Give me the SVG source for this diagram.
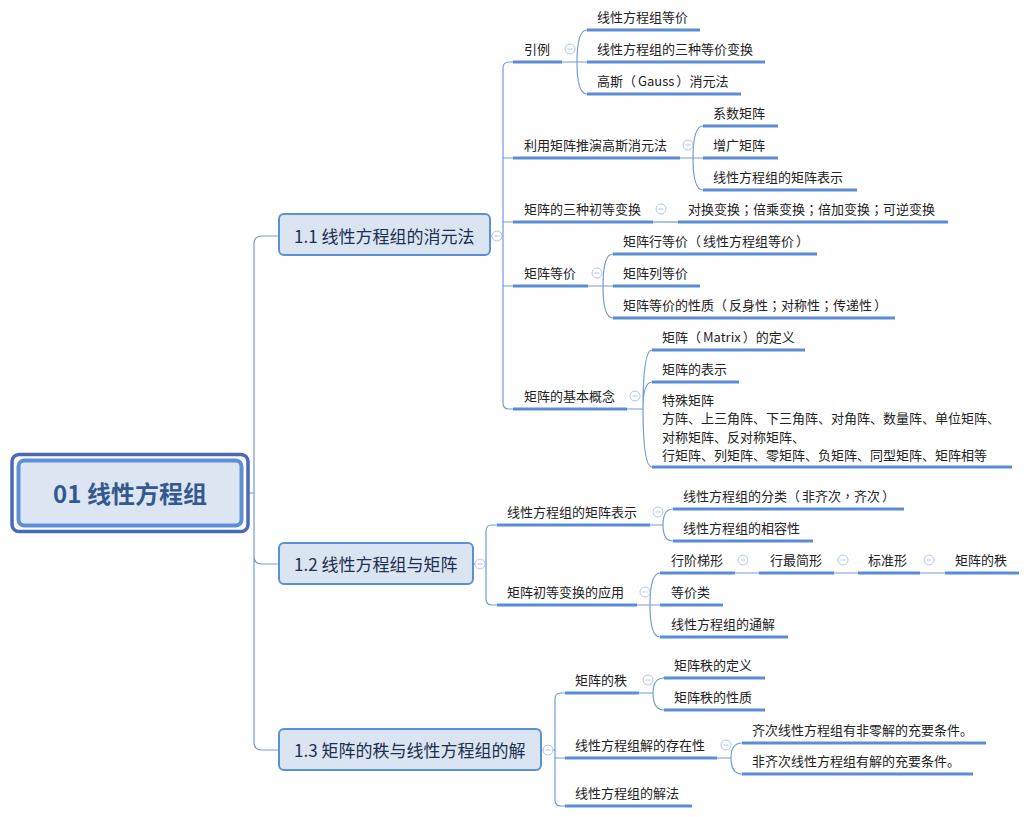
<svg xmlns="http://www.w3.org/2000/svg" xmlns:xlink="http://www.w3.org/1999/xlink" width="1031" height="817" viewBox="0 0 1031 817">
<style>
.ul{stroke:#5b8dd6;stroke-width:3;fill:none}
.cn{stroke:#6f9bd9;stroke-width:1.2;fill:none}
.t{font-family:"Noto Sans CJK SC","Noto Sans",sans-serif;font-size:13px;fill:#222}
.p{font-family:"Noto Sans CJK TC","Noto Sans CJK SC",sans-serif}
.mt{font-family:"Noto Sans CJK SC","Noto Sans",sans-serif;font-size:17px;fill:#1b2f52}
.box{fill:#dbe5f1;stroke:#5b8fd6;stroke-width:2}
.col circle{fill:#fff;stroke:#b3c4e8;stroke-width:1}
.col line{stroke:#b3c4e8;stroke-width:1}
</style>
<defs>
<g id="col" class="col"><circle cx="0" cy="0" r="5"/><line x1="-2.5" y1="0" x2="2.5" y2="0"/></g>
</defs>
<rect width="1031" height="817" fill="#fff"/>

<g id="connectors">
<path class="cn" d="M248 493 H254 M254 493 V244 Q254 236 262 236 H279 M254 493 V742 Q254 750 262 750 H279 M254 493 V556 Q254 564 262 564 H279"/>
<path class="cn" d="M490 236 H503 M513 62 H509 Q503 62 503 68 V403 Q503 409 509 409 H513 M503 158 H513 M503 222 H513 M503 286 H513"/>
<path class="cn" d="M473 564 H486 M497 525 H492 Q486 525 486 531 V599 Q486 605 492 605 H497"/>
<path class="cn" d="M541 750 H555 M565 693 H561 Q555 693 555 699 V800 Q555 806 561 806 H565 M555 758 H565"/>
<path class="cn" d="M562 62 H587 M577 62 Q577 30 587 30 M577 62 Q577 94 587 94"/>
<path class="cn" d="M680 158 H703 M693 158 Q693 126 703 126 M693 158 Q693 190 703 190"/>
<path class="cn" d="M653 222 H678"/>
<path class="cn" d="M588 286 H613 M603 286 Q603 254 613 254 M603 286 Q603 318 613 318"/>
<path class="cn" d="M627 409 H643 M643 409 Q643 350 652 350 M643 409 Q643 382 652 382 M643 409 Q643 467 652 467"/>
<path class="cn" d="M650 525 H663 M663 525 Q663 509 673 509 M663 525 Q663 541 673 541"/>
<path class="cn" d="M637 605 H660 M650 605 Q650 573 660 573 M650 605 Q650 637 660 637"/>
<path class="cn" d="M735 573 H759 M834 573 H858 M920 573 H945"/>
<path class="cn" d="M639 693 H653 M653 693 Q653 678 664 678 M653 693 Q653 710 664 710"/>
<path class="cn" d="M717 758 H731 M731 758 Q731 743 742 743 M731 758 Q731 774 742 774"/>
</g>

<g id="root">
<rect x="12" y="454.5" width="236" height="77" rx="7" fill="#fff" stroke="#4b69b8" stroke-width="3.5"/>
<rect x="18.5" y="460.5" width="223" height="65" rx="6" fill="#dce6f2" stroke="#5b8fd6" stroke-width="4"/>
<text x="130" y="503" text-anchor="middle" font-family="Noto Sans CJK SC, Noto Sans, sans-serif" font-size="24" font-weight="bold" fill="#34598f">01 线性方程组</text>
</g>

<g id="n11"><rect class="box" x="279" y="214" width="211" height="41" rx="5"/><text class="mt" x="294" y="242.5">1.1 线性方程组的消元法</text><use xlink:href="#col" x="497" y="236"/></g>
<g id="n12"><rect class="box" x="279" y="543" width="194" height="41" rx="5"/><text class="mt" x="294" y="570.5">1.2 线性方程组与矩阵</text><use xlink:href="#col" x="480" y="564"/></g>
<g id="n13"><rect class="box" x="279" y="729" width="262" height="41" rx="5"/><text class="mt" x="294" y="756.5">1.3 矩阵的秩与线性方程组的解</text><use xlink:href="#col" x="548" y="750"/></g>

<g id="a"><line class="ul" x1="513" y1="62" x2="562" y2="62"/><text class="t" x="524" y="54">引例</text><use xlink:href="#col" x="570" y="49"/></g>
<g id="a1"><line class="ul" x1="587" y1="30" x2="700" y2="30"/><text class="t" x="597" y="22">线性方程组等价</text></g>
<g id="a2"><line class="ul" x1="587" y1="62" x2="765" y2="62"/><text class="t" x="597" y="54">线性方程组的三种等价变换</text></g>
<g id="a3"><line class="ul" x1="587" y1="94" x2="741" y2="94"/><text class="t" x="597" y="86">高斯（<tspan dx="2">Gauss</tspan><tspan dx="2">）</tspan>消元法</text></g>

<g id="b"><line class="ul" x1="513" y1="158" x2="680" y2="158"/><text class="t" x="524" y="150">利用矩阵推演高斯消元法</text><use xlink:href="#col" x="688" y="145"/></g>
<g id="b1"><line class="ul" x1="703" y1="126" x2="778" y2="126"/><text class="t" x="713" y="118">系数矩阵</text></g>
<g id="b2"><line class="ul" x1="703" y1="158" x2="778" y2="158"/><text class="t" x="713" y="150">增广矩阵</text></g>
<g id="b3"><line class="ul" x1="703" y1="190" x2="857" y2="190"/><text class="t" x="713" y="182">线性方程组的矩阵表示</text></g>

<g id="c"><line class="ul" x1="513" y1="222" x2="653" y2="222"/><text class="t" x="524" y="214">矩阵的三种初等变换</text><use xlink:href="#col" x="661" y="209"/></g>
<g id="c1"><line class="ul" x1="678" y1="222" x2="948" y2="222"/><text class="t" x="688" y="214">对换变换<tspan class="p">；</tspan>倍乘变换<tspan class="p">；</tspan>倍加变换<tspan class="p">；</tspan>可逆变换</text></g>

<g id="d"><line class="ul" x1="513" y1="286" x2="588" y2="286"/><text class="t" x="524" y="278">矩阵等价</text><use xlink:href="#col" x="597" y="273"/></g>
<g id="d1"><line class="ul" x1="613" y1="254" x2="817" y2="254"/><text class="t" x="623" y="246">矩阵行等价（<tspan dx="2">线性方程组等价</tspan><tspan dx="2">）</tspan></text></g>
<g id="d2"><line class="ul" x1="613" y1="286" x2="700" y2="286"/><text class="t" x="623" y="278">矩阵列等价</text></g>
<g id="d3"><line class="ul" x1="613" y1="318" x2="895" y2="318"/><text class="t" x="623" y="310">矩阵等价的性质（<tspan dx="2">反身性</tspan><tspan class="p">；</tspan>对称性<tspan class="p">；</tspan>传递性<tspan dx="2">）</tspan></text></g>

<g id="e"><line class="ul" x1="513" y1="409" x2="627" y2="409"/><text class="t" x="524" y="401">矩阵的基本概念</text><use xlink:href="#col" x="635" y="396"/></g>
<g id="e1"><line class="ul" x1="652" y1="350" x2="805" y2="350"/><text class="t" x="662" y="342">矩阵（<tspan dx="2">Matrix</tspan><tspan dx="2">）</tspan>的定义</text></g>
<g id="e2"><line class="ul" x1="652" y1="382" x2="739" y2="382"/><text class="t" x="662" y="374">矩阵的表示</text></g>
<g id="e3"><line class="ul" x1="652" y1="467" x2="1012" y2="467"/><text class="t" x="662" y="405"><tspan x="662">特殊矩阵</tspan><tspan x="662" dy="18.4">方阵、上三角阵、下三角阵、对角阵、数量阵、单位矩阵、</tspan><tspan x="662" dy="18.4">对称矩阵、反对称矩阵、</tspan><tspan x="662" dy="18.4">行矩阵、列矩阵、零矩阵、负矩阵、同型矩阵、矩阵相等</tspan></text></g>

<g id="f"><line class="ul" x1="497" y1="525" x2="650" y2="525"/><text class="t" x="507" y="517">线性方程组的矩阵表示</text><use xlink:href="#col" x="658" y="512"/></g>
<g id="f1"><line class="ul" x1="673" y1="509" x2="904" y2="509"/><text class="t" x="683" y="501">线性方程组的分类（<tspan dx="2">非齐次</tspan><tspan class="p">，</tspan>齐次<tspan dx="2">）</tspan></text></g>
<g id="f2"><line class="ul" x1="673" y1="541" x2="813" y2="541"/><text class="t" x="683" y="533">线性方程组的相容性</text></g>

<g id="g"><line class="ul" x1="497" y1="605" x2="637" y2="605"/><text class="t" x="507" y="597">矩阵初等变换的应用</text><use xlink:href="#col" x="645" y="592"/></g>
<g id="g1"><line class="ul" x1="660" y1="573" x2="735" y2="573"/><text class="t" x="671" y="565">行阶梯形</text><use xlink:href="#col" x="743" y="560"/></g>
<g id="g1a"><line class="ul" x1="759" y1="573" x2="834" y2="573"/><text class="t" x="770" y="565">行最简形</text><use xlink:href="#col" x="843" y="560"/></g>
<g id="g1b"><line class="ul" x1="858" y1="573" x2="920" y2="573"/><text class="t" x="868" y="565">标准形</text><use xlink:href="#col" x="929" y="560"/></g>
<g id="g1c"><line class="ul" x1="945" y1="573" x2="1019" y2="573"/><text class="t" x="955" y="565">矩阵的秩</text></g>
<g id="g2"><line class="ul" x1="660" y1="605" x2="723" y2="605"/><text class="t" x="671" y="597">等价类</text></g>
<g id="g3"><line class="ul" x1="660" y1="637" x2="788" y2="637"/><text class="t" x="671" y="629">线性方程组的通解</text></g>

<g id="h"><line class="ul" x1="565" y1="693" x2="639" y2="693"/><text class="t" x="575" y="685">矩阵的秩</text><use xlink:href="#col" x="648" y="680"/></g>
<g id="h1"><line class="ul" x1="664" y1="678" x2="765" y2="678"/><text class="t" x="674" y="670">矩阵秩的定义</text></g>
<g id="h2"><line class="ul" x1="664" y1="710" x2="765" y2="710"/><text class="t" x="674" y="702">矩阵秩的性质</text></g>

<g id="i"><line class="ul" x1="565" y1="758" x2="717" y2="758"/><text class="t" x="575" y="750">线性方程组解的存在性</text><use xlink:href="#col" x="726" y="745"/></g>
<g id="i1"><line class="ul" x1="742" y1="743" x2="986" y2="743"/><text class="t" x="752" y="735">齐次线性方程组有非零解的充要条件。</text></g>
<g id="i2"><line class="ul" x1="742" y1="774" x2="973" y2="774"/><text class="t" x="752" y="766">非齐次线性方程组有解的充要条件。</text></g>

<g id="j"><line class="ul" x1="565" y1="806" x2="692" y2="806"/><text class="t" x="575" y="798">线性方程组的解法</text></g>
</svg>
